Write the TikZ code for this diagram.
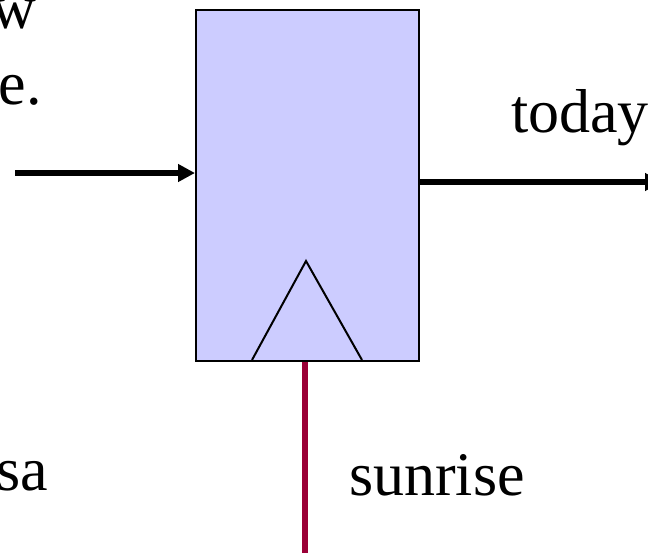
\documentclass[tikz,border=0pt]{standalone}
\usepackage{fontspec}
\setmainfont{Liberation Serif}
\usetikzlibrary{arrows.meta,positioning}
\definecolor{clockred}{RGB}{155,0,55}
\definecolor{fflav}{RGB}{204,204,255}
\begin{document}
\begin{tikzpicture}[x=1pt,y=-1pt,
	lbl/.style={inner sep=0pt,font=\fontsize{62}{64}\selectfont},
	sig/.style={line width=5.6pt,-{Triangle[length=17pt,width=17pt]}}]
	\useasboundingbox (0,0) rectangle (648,552);
	\node[draw, fill=fflav, line width=2pt, minimum width=223pt, minimum height=351pt, anchor=north west, inner sep=0pt] (ff) at (195,9) {};
	\draw[line width=2pt] (252,360) -- (306,261) -- (362,360);

	\coordinate (din) at (15,173);
	\coordinate (qout) at (662,182);
	\coordinate (clk) at (305,560);
	\draw[sig] (din) -- (din -| ff.west);
	\draw[sig] (qout -| ff.east) -- (qout);
	\draw[clockred, line width=5.4pt] (clk) -- (clk |- ff.south);

	\node[lbl, anchor=base west] (today) at (511,132) {today};
	\node[lbl, anchor=base west] (sunrise) at (349,495) {sunrise};
	\node[lbl, anchor=base east] (w) at (36,28) {w};
	\node[lbl, anchor=base east] (e) at (42,104) {e.};
	\node[lbl, anchor=base east] (sa) at (48,490) {sa};
\end{tikzpicture}
\end{document}
